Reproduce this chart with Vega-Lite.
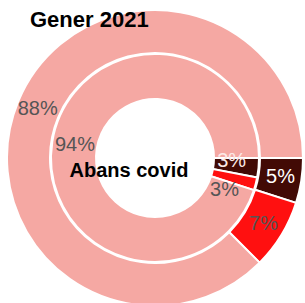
{
  "$schema": "https://vega.github.io/schema/vega-lite/v6.json",
  "width": 296,
  "height": 296,
  "padding": {"left": 7, "top": 10, "right": 2, "bottom": 0},
  "autosize": {"type": "none"},
  "background": "white",
  "title": {
    "text": "Gener 2021",
    "anchor": "start",
    "frame": "group",
    "offset": -43,
    "dx": 23,
    "baseline": "alphabetic",
    "font": "Liberation Sans",
    "fontSize": 22,
    "fontWeight": "bold",
    "color": "black"
  },
  "config": {"view": {"stroke": null}},
  "data": {
    "values": [
      {"ring": "outer", "cat": "dark", "rank": 1, "value": 4.9, "label": "5%"},
      {"ring": "outer", "cat": "red", "rank": 2, "value": 7.6, "label": "7%"},
      {"ring": "outer", "cat": "pink", "rank": 3, "value": 87.5, "label": "88%"},
      {"ring": "inner", "cat": "dark", "rank": 1, "value": 3.0, "label": "3%"},
      {"ring": "inner", "cat": "red", "rank": 2, "value": 2.0, "label": "3%"},
      {"ring": "inner", "cat": "pink", "rank": 3, "value": 95.0, "label": "94%"}
    ]
  },
  "layer": [
    {
      "transform": [{"filter": "datum.ring === 'outer'"}],
      "mark": {"type": "arc", "innerRadius": 105, "outerRadius": 148, "stroke": "white", "strokeWidth": 2},
      "encoding": {
        "theta": {"field": "value", "type": "quantitative", "stack": "normalize", "scale": {"range": [1.5707963, 7.8539816]}},
        "order": {"field": "rank", "type": "quantitative"},
        "color": {"field": "cat", "type": "nominal", "scale": {"domain": ["dark", "red", "pink"], "range": ["#420a05", "#ff1010", "#f5a8a3"]}, "legend": null}
      }
    },
    {
      "transform": [{"filter": "datum.ring === 'inner'"}],
      "mark": {"type": "arc", "innerRadius": 59, "outerRadius": 104, "stroke": "white", "strokeWidth": 2},
      "encoding": {
        "theta": {"field": "value", "type": "quantitative", "stack": "normalize"},
        "order": {"field": "rank", "type": "quantitative"},
        "color": {"field": "cat", "type": "nominal", "legend": null}
      }
    },
    {
      "transform": [{"filter": "datum.ring === 'outer'"}],
      "mark": {"type": "text", "radius": 127, "font": "Liberation Sans", "fontSize": 20, "align": "center", "baseline": "middle"},
      "encoding": {
        "theta": {"field": "value", "type": "quantitative", "stack": "normalize"},
        "order": {"field": "rank", "type": "quantitative"},
        "detail": {"field": "cat", "type": "nominal"},
        "text": {"field": "label", "type": "nominal"},
        "color": {"condition": {"test": "datum.cat === 'dark'", "value": "#ffffff"}, "value": "#555555"}
      }
    },
    {
      "transform": [{"filter": "datum.ring === 'inner'"}],
      "mark": {"type": "text", "radius": 81, "font": "Liberation Sans", "fontSize": 20, "align": "center", "baseline": "middle", "color": "#555555"},
      "encoding": {
        "theta": {"field": "value", "type": "quantitative", "stack": "normalize"},
        "order": {"field": "rank", "type": "quantitative"},
        "detail": {"field": "cat", "type": "nominal"},
        "text": {"field": "label", "type": "nominal"},
        "opacity": {"condition": {"test": "datum.cat === 'pink'", "value": 1}, "value": 0}
      }
    },
    {
      "transform": [{"filter": "datum.ring === 'inner'"}],
      "mark": {"type": "text", "radius": 81, "font": "Liberation Sans", "fontSize": 20, "align": "center", "baseline": "middle", "dx": -4, "dy": -5, "color": "#fbe9e7"},
      "encoding": {
        "theta": {"field": "value", "type": "quantitative", "stack": "normalize"},
        "order": {"field": "rank", "type": "quantitative"},
        "detail": {"field": "cat", "type": "nominal"},
        "text": {"field": "label", "type": "nominal"},
        "opacity": {"condition": {"test": "datum.cat === 'dark'", "value": 1}, "value": 0}
      }
    },
    {
      "transform": [{"filter": "datum.ring === 'inner'"}],
      "mark": {"type": "text", "radius": 81, "font": "Liberation Sans", "fontSize": 20, "align": "center", "baseline": "middle", "dx": -9, "dy": 12, "color": "#555555"},
      "encoding": {
        "theta": {"field": "value", "type": "quantitative", "stack": "normalize"},
        "order": {"field": "rank", "type": "quantitative"},
        "detail": {"field": "cat", "type": "nominal"},
        "text": {"field": "label", "type": "nominal"},
        "opacity": {"condition": {"test": "datum.cat === 'red'", "value": 1}, "value": 0}
      }
    },
    {
      "data": {"values": [{"t": "Abans covid"}]},
      "mark": {"type": "text", "font": "Liberation Sans", "fontSize": 20, "fontWeight": "bold", "align": "center", "baseline": "alphabetic", "dx": -26, "dy": 19, "color": "black"},
      "encoding": {
        "text": {"field": "t", "type": "nominal"}
      }
    }
  ]
}
